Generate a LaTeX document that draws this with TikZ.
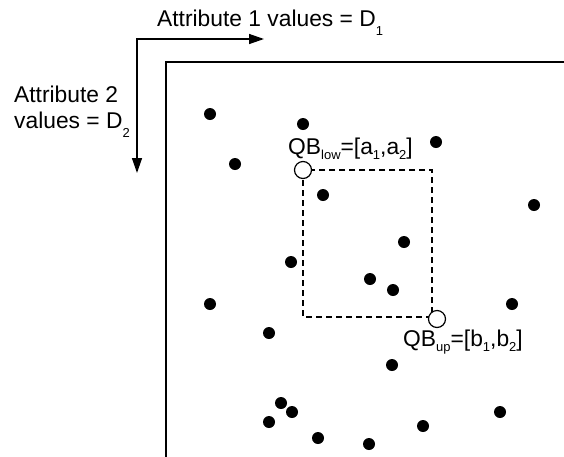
\documentclass[tikz,border=0pt]{standalone}
\usepackage{fontspec}
\setmainfont{Liberation Sans}
\usepackage{tikz}
\usetikzlibrary{arrows.meta,positioning}
\newcommand\dsub[2][5pt]{\raisebox{-#1}{\fontsize{13}{13}\selectfont #2}}
\tikzset{
  txt/.style={inner sep=0pt,font=\fontsize{22.8}{26}\selectfont},
  dot/.style={circle,fill=black,inner sep=0pt,minimum size=12pt},
  bound/.style={circle,draw=black,fill=white,line width=1.2pt,inner sep=0pt,minimum size=17pt},
  axis/.style={{Triangle[length=15pt,width=10pt]}-{Triangle[length=15pt,width=10pt]},line width=1.4pt},
  frame/.style={line width=1.5pt},
  qbox/.style={line width=1.2pt,dash pattern=on 6pt off 4pt}
}

\begin{document}
\begin{tikzpicture}[x=1pt,y=-1pt]
  \useasboundingbox (0,0) rectangle (564,456);

  % axes
  \coordinate (origin) at (137,39);
  \coordinate (xend) at (264,39);
  \coordinate (yend) at (137,173);
  \draw[axis] (xend) -- (origin) -- (yend);
  \node[txt,anchor=base west] (attx) at (157,26) {Attribute 1 values = D\dsub[9pt]{1}};
  \node[txt,anchor=base west,align=left] (atty) at (14,128) {Attribute 2\\values = D\dsub[9pt]{2}};

  % domain
  \draw[frame] (166,460) -- (166,62) -- (568,62);

  % data points
  \foreach \px/\py [count=\i] in {210/114,303/124,436/142,235/164,323/195,534/205,
      404/242,291/262,370/279,393/290,210/304,512/304,269/333,392/365,
      281/403,292/412,269/422,500/412,318/438,423/426,369/444}
    \node[dot] (p\i) at (\px,\py) {};

  % query box
  \coordinate (lo) at (303,170);
  \coordinate (hi) at (432,317);
  \draw[qbox] (lo) rectangle (hi);
  \node[bound] (qblow) at (lo) {};
  \node[bound] (qbup) at (437,319) {};
  \node[txt,anchor=base west] (lowlbl) at (288,154.5) {QB\dsub{low}=[a\dsub{1},a\dsub{2}]};
  \node[txt,anchor=base west] (uplbl) at (403,346.5) {QB\dsub{up}=[b\dsub{1},b\dsub{2}]};
\end{tikzpicture}
\end{document}
